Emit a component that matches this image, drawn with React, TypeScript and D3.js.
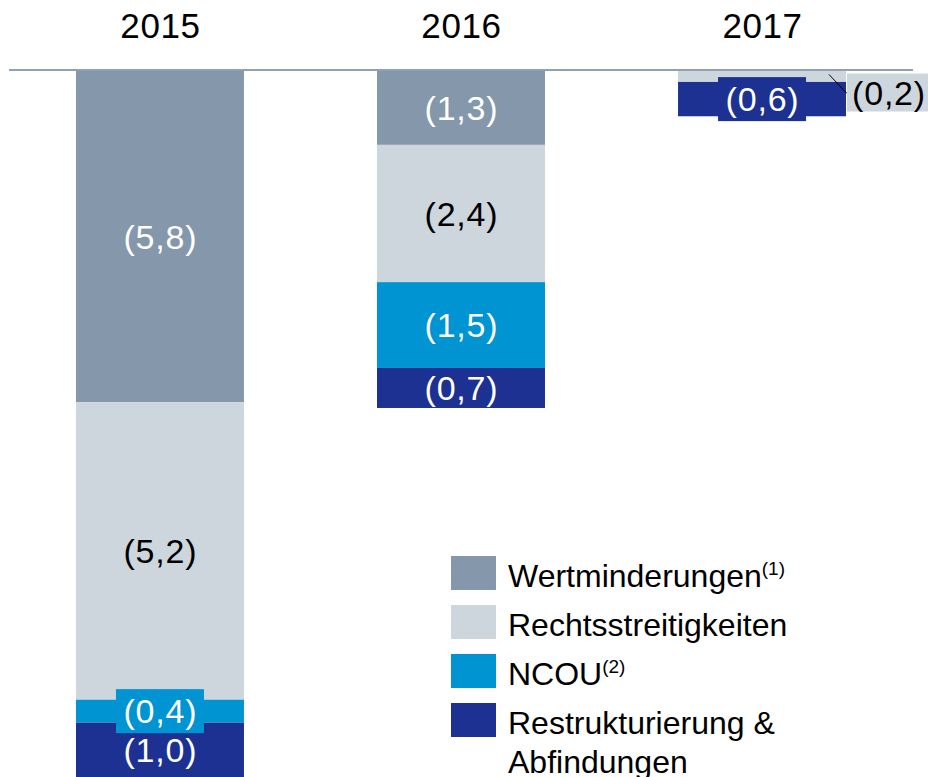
import React from "react";
import * as d3 from "d3";

const years = ["2015", "2016", "2017"];
const seriesNames = ["Wertminderungen", "Rechtsstreitigkeiten", "NCOU", "Restrukturierung & Abfindungen"];
const wertminderungen = [5.8, 1.3, 0];
const rechtsstreitigkeiten = [5.2, 2.4, 0.2];
const ncou = [0.4, 1.5, 0];
const restrukturierung = [1.0, 0.7, 0.6];
const colors = ["#8497ab", "#cdd5dd", "#0094d2", "#1c3192"];
const labelColors = ["#ffffff", "#000000", "#ffffff", "#ffffff"];
const legendLines = [["Wertminderungen"], ["Rechtsstreitigkeiten"], ["NCOU"], ["Restrukturierung &", "Abfindungen"]];
const legendSup = ["(1)", "", "(2)", ""];

const W = 928;
const H = 777;
const FONT = "'Liberation Sans', Arial, sans-serif";

export default function App() {
  const rows = years.map((y, i) => ({
    year: y,
    s0: wertminderungen[i],
    s1: rechtsstreitigkeiten[i],
    s2: ncou[i],
    s3: restrukturierung[i],
  }));
  const keys = ["s0", "s1", "s2", "s3"];
  const stacked = d3.stack<any>().keys(keys)(rows);

  const x = d3.scaleBand<string>().domain(years).range([9, 913]).paddingInner(0.442).paddingOuter(0.2225);
  const y = d3.scaleLinear().domain([0, 13]).range([70.5, 70.5 + 13 * 57.2]);

  const fmt = (v: number) => "(" + v.toFixed(1).replace(".", ",") + ")";

  const valueText = (key: string, tx: number, ty: number, fill: string, txt: string) => (
    <text key={key} x={tx} y={ty} dy="0.36em" textAnchor="middle" fontSize={34} letterSpacing={0.8} fill={fill} fontFamily={FONT}>
      {txt}
    </text>
  );

  const bars: React.ReactNode[] = [];
  const labels: React.ReactNode[] = [];
  stacked.forEach((layer, si) => {
    layer.forEach((d, yi) => {
      const v = d[1] - d[0];
      if (v <= 0) return;
      const bx = x(years[yi])!;
      const bw = x.bandwidth();
      const y0 = y(d[0]);
      const y1 = y(d[1]);
      bars.push(
        <rect key={`b${si}-${yi}`} x={bx} y={y0} width={bw} height={y1 - y0} fill={colors[si]} />
      );
      const cx = bx + bw / 2;
      const cy = (y0 + y1) / 2;
      const txt = fmt(v);
      if (v < 0.3) {
        const lx = bx + bw + 1;
        labels.push(
          <g key={`l${si}-${yi}`}>
            <line x1={bx + bw - 17} y1={y0 + 4} x2={lx} y2={y0 + 23} stroke="#000" strokeWidth={1} />
            <rect x={lx} y={y0 + 3} width={84} height={38} fill={colors[si]} />
            {valueText("t", lx + 42, y0 + 22, labelColors[si], txt)}
          </g>
        );
      } else if (v < 0.65 && y1 - y0 < 38) {
        labels.push(
          <g key={`l${si}-${yi}`}>
            <rect x={cx - 44} y={cy - 22} width={88} height={44} fill={colors[si]} />
            {valueText("t", cx + 0.5, cy, labelColors[si], txt)}
          </g>
        );
      } else {
        const vis = Math.min(y1, H);
        const cyy = (y0 + vis) / 2;
        labels.push(valueText(`l${si}-${yi}`, cx + 0.5, cyy, labelColors[si], txt));
      }
    });
  });

  const legendX = 451;
  const legendY0 = 556;
  const legendStep = 49;

  return (
    <svg width={W} height={H} style={{ position: "absolute", left: 0, top: 0, display: "block" }} fontFamily={FONT}>
      <rect x={0} y={0} width={W} height={H} fill="#ffffff" />
      {years.map((yr) => (
        <text key={yr} x={x(yr)! + x.bandwidth() / 2 + 0.5} y={38} textAnchor="middle" fontSize={35} letterSpacing={0.6} fill="#000">
          {yr}
        </text>
      ))}
      {bars}
      <line x1={9} x2={913} y1={70} y2={70} stroke="#8fa1b5" strokeWidth={2} />
      {labels}
      {seriesNames.map((name, i) => (
        <g key={name}>
          <rect x={legendX} y={legendY0 + i * legendStep} width={45} height={34} fill={colors[i]} />
          {legendLines[i].map((ln, li) => (
            <text key={li} x={508} y={legendY0 + i * legendStep + 31 + li * 39} fontSize={32} fill="#000">
              {ln}
              {li === 0 && legendSup[i] ? (
                <tspan fontSize={19} dy={-12}>{legendSup[i]}</tspan>
              ) : null}
            </text>
          ))}
        </g>
      ))}
    </svg>
  );
}
